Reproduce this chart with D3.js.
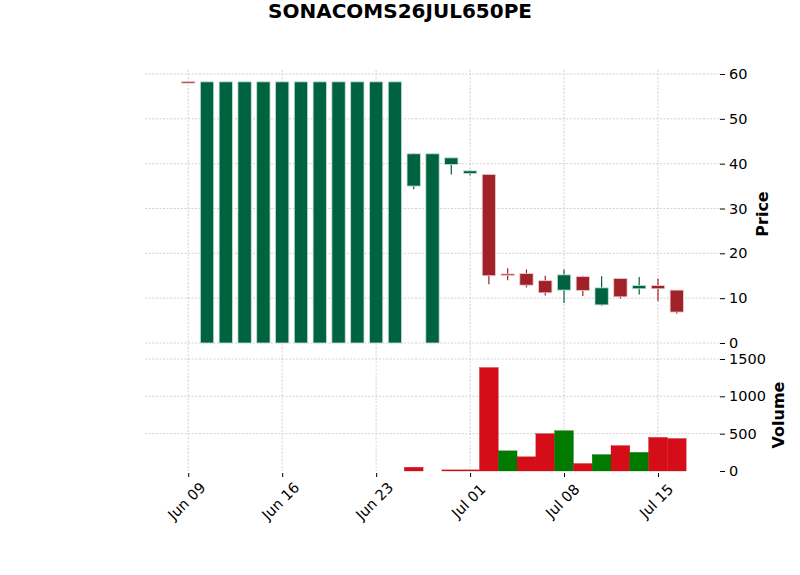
<!DOCTYPE html>
<html>
<head>
<meta charset="utf-8">
<title>SONACOMS26JUL650PE</title>
<script src="https://d3js.org/d3.v7.min.js"></script>
<style>
  body { margin: 0; background: #fff; }
  text { font-family: "DejaVu Sans", sans-serif; }
</style>
</head>
<body>
<div id="chart"></div>
<script>
// trading days shown on the chart
const dates = ["Jun 09","Jun 10","Jun 11","Jun 12","Jun 13","Jun 16","Jun 17","Jun 18","Jun 19","Jun 20",
               "Jun 23","Jun 24","Jun 25","Jun 26","Jun 27","Jul 01","Jul 02","Jul 03","Jul 04","Jul 07",
               "Jul 08","Jul 09","Jul 10","Jul 11","Jul 14","Jul 15","Jul 16"];
const opens  = [58.3, 0, 0, 0, 0, 0, 0, 0, 0, 0, 0, 0, 35.0, 0, 39.8, 37.8, 37.6, 15.4, 15.5, 13.9, 11.8, 14.8, 8.5, 14.4, 12.1, 12.8, 11.8];
const highs  = [58.3, 58.25, 58.25, 58.25, 58.25, 58.25, 58.25, 58.25, 58.25, 58.25, 58.25, 58.25, 42.3, 42.2, 41.3, 38.5, 37.6, 16.7, 16.4, 15.0, 16.4, 15.0, 14.9, 14.4, 14.7, 14.4, 11.8];
const lows   = [58.2, 0, 0, 0, 0, 0, 0, 0, 0, 0, 0, 0, 34.3, 0, 37.6, 37.4, 13.1, 14.0, 12.4, 10.6, 8.9, 10.5, 8.3, 9.9, 10.8, 9.3, 6.5];
const closes = [58.2, 58.25, 58.25, 58.25, 58.25, 58.25, 58.25, 58.25, 58.25, 58.25, 58.25, 58.25, 42.2, 42.2, 41.3, 38.4, 15.0, 15.3, 12.9, 11.2, 15.2, 11.7, 12.3, 10.3, 12.8, 12.1, 6.9];
const volumes = [0, 0, 0, 0, 0, 0, 0, 0, 0, 0, 0, 0, 50, 0, 15, 15, 1385, 270, 190, 500, 540, 100, 220, 340, 250, 450, 435];
const volUp   = [0, 0, 0, 0, 0, 0, 0, 0, 0, 0, 0, 0, 0, 0, 0, 0, 0, 1, 0, 0, 1, 0, 1, 0, 1, 0, 0];

const priceTicks = [0, 10, 20, 30, 40, 50, 60];
const volTicks = [0, 500, 1000, 1500];
const xTickIdx = [0, 5, 10, 15, 20, 25];

const W = 800, H = 575;
const upColor = "#006340", downColor = "#a02128";
const upEdge = "#c9ded5", downEdge = "#e8cfd1";
const volUpColor = "#007a00", volDownColor = "#d50d18";
const gridColor = "#bdbdbd";

const svg = d3.select("#chart").append("svg")
    .attr("width", W).attr("height", H);

const x = d3.scaleLinear().domain([-2.3, 28.3]).range([145, 720]);
const yP = d3.scaleLinear().domain([0, 60]).range([343, 74]);
const yV = d3.scaleLinear().domain([0, 1500]).range([471, 359]);

const step = x(1) - x(0);
const candleW = step * 0.71;

// grid
const grid = svg.append("g")
    .attr("stroke", gridColor).attr("stroke-width", 0.7)
    .attr("stroke-dasharray", "2,1.6");
grid.selectAll(".vg").data(xTickIdx).enter().append("line")
    .attr("x1", d => x(d)).attr("x2", d => x(d))
    .attr("y1", 70).attr("y2", 471);
grid.selectAll(".hp").data(priceTicks).enter().append("line")
    .attr("x1", 145).attr("x2", 720)
    .attr("y1", d => yP(d)).attr("y2", d => yP(d));
grid.selectAll(".hv").data(volTicks.slice(1)).enter().append("line")
    .attr("x1", 145).attr("x2", 720)
    .attr("y1", d => yV(d)).attr("y2", d => yV(d));

const idx = d3.range(dates.length);

// volume bars
svg.append("g").selectAll("rect").data(idx.filter(i => volumes[i] > 0)).enter().append("rect")
    .attr("x", i => x(i) - step / 2)
    .attr("width", step)
    .attr("y", i => yV(volumes[i]))
    .attr("height", i => yV(0) - yV(volumes[i]))
    .attr("fill", i => volUp[i] ? volUpColor : volDownColor)
    .attr("stroke", i => volUp[i] ? "#006a00" : "#b80a14")
    .attr("stroke-width", 0.3);

// candles
const candles = svg.append("g");
candles.selectAll("line").data(idx).enter().append("line")
    .attr("x1", i => x(i)).attr("x2", i => x(i))
    .attr("y1", i => yP(highs[i])).attr("y2", i => yP(lows[i]))
    .attr("stroke", i => closes[i] >= opens[i] ? upColor : downColor)
    .attr("stroke-width", 1.2);
candles.selectAll("rect").data(idx).enter().append("rect")
    .attr("x", i => x(i) - candleW / 2)
    .attr("width", candleW)
    .attr("y", i => yP(Math.max(opens[i], closes[i])))
    .attr("height", i => Math.max(1.5, yP(Math.min(opens[i], closes[i])) - yP(Math.max(opens[i], closes[i]))))
    .attr("fill", i => closes[i] >= opens[i] ? upColor : downColor)
    .attr("stroke", i => closes[i] >= opens[i] ? upEdge : downEdge)
    .attr("stroke-width", 0.8);

// right axes
const axP = svg.append("g").attr("transform", "translate(720,0)")
    .call(d3.axisRight(yP).tickValues(priceTicks).tickSize(5).tickPadding(4));
const axV = svg.append("g").attr("transform", "translate(720,0)")
    .call(d3.axisRight(yV).tickValues(volTicks).tickFormat(d3.format("d")).tickSize(5).tickPadding(4));
[axP, axV].forEach(a => {
  a.select(".domain").remove();
  a.selectAll("text").style("font-size", "14.5px").attr("fill", "#000")
      .style("font-family", "DejaVu Sans");
  a.selectAll(".tick line").attr("stroke", "#000");
});

// bottom axis
const axX = svg.append("g").attr("transform", "translate(0,471)")
    .call(d3.axisBottom(x).tickValues(xTickIdx).tickFormat(i => dates[i]).tickSize(5));
axX.select(".domain").remove();
axX.selectAll(".tick line").attr("stroke", "#000").attr("y1", 2).attr("y2", 6);
axX.selectAll("text")
    .style("font-size", "14.5px").attr("fill", "#000")
    .style("font-family", "DejaVu Sans")
    .style("text-anchor", "middle")
    .attr("dominant-baseline", "central")
    .attr("y", 0).attr("dy", 0)
    .attr("transform", "translate(-2,30) rotate(-45)");

// labels
svg.append("text")
    .attr("x", 400).attr("y", 18)
    .attr("text-anchor", "middle")
    .style("font-size", "20px").attr("font-weight", "bold")
    .text("SONACOMS26JUL650PE");
svg.append("text")
    .attr("transform", "translate(768,214) rotate(-90)")
    .attr("text-anchor", "middle")
    .style("font-size", "16px").attr("font-weight", "bold")
    .text("Price");
svg.append("text")
    .attr("transform", "translate(784,415) rotate(-90)")
    .attr("text-anchor", "middle")
    .style("font-size", "16px").attr("font-weight", "bold")
    .text("Volume");
</script>
</body>
</html>
